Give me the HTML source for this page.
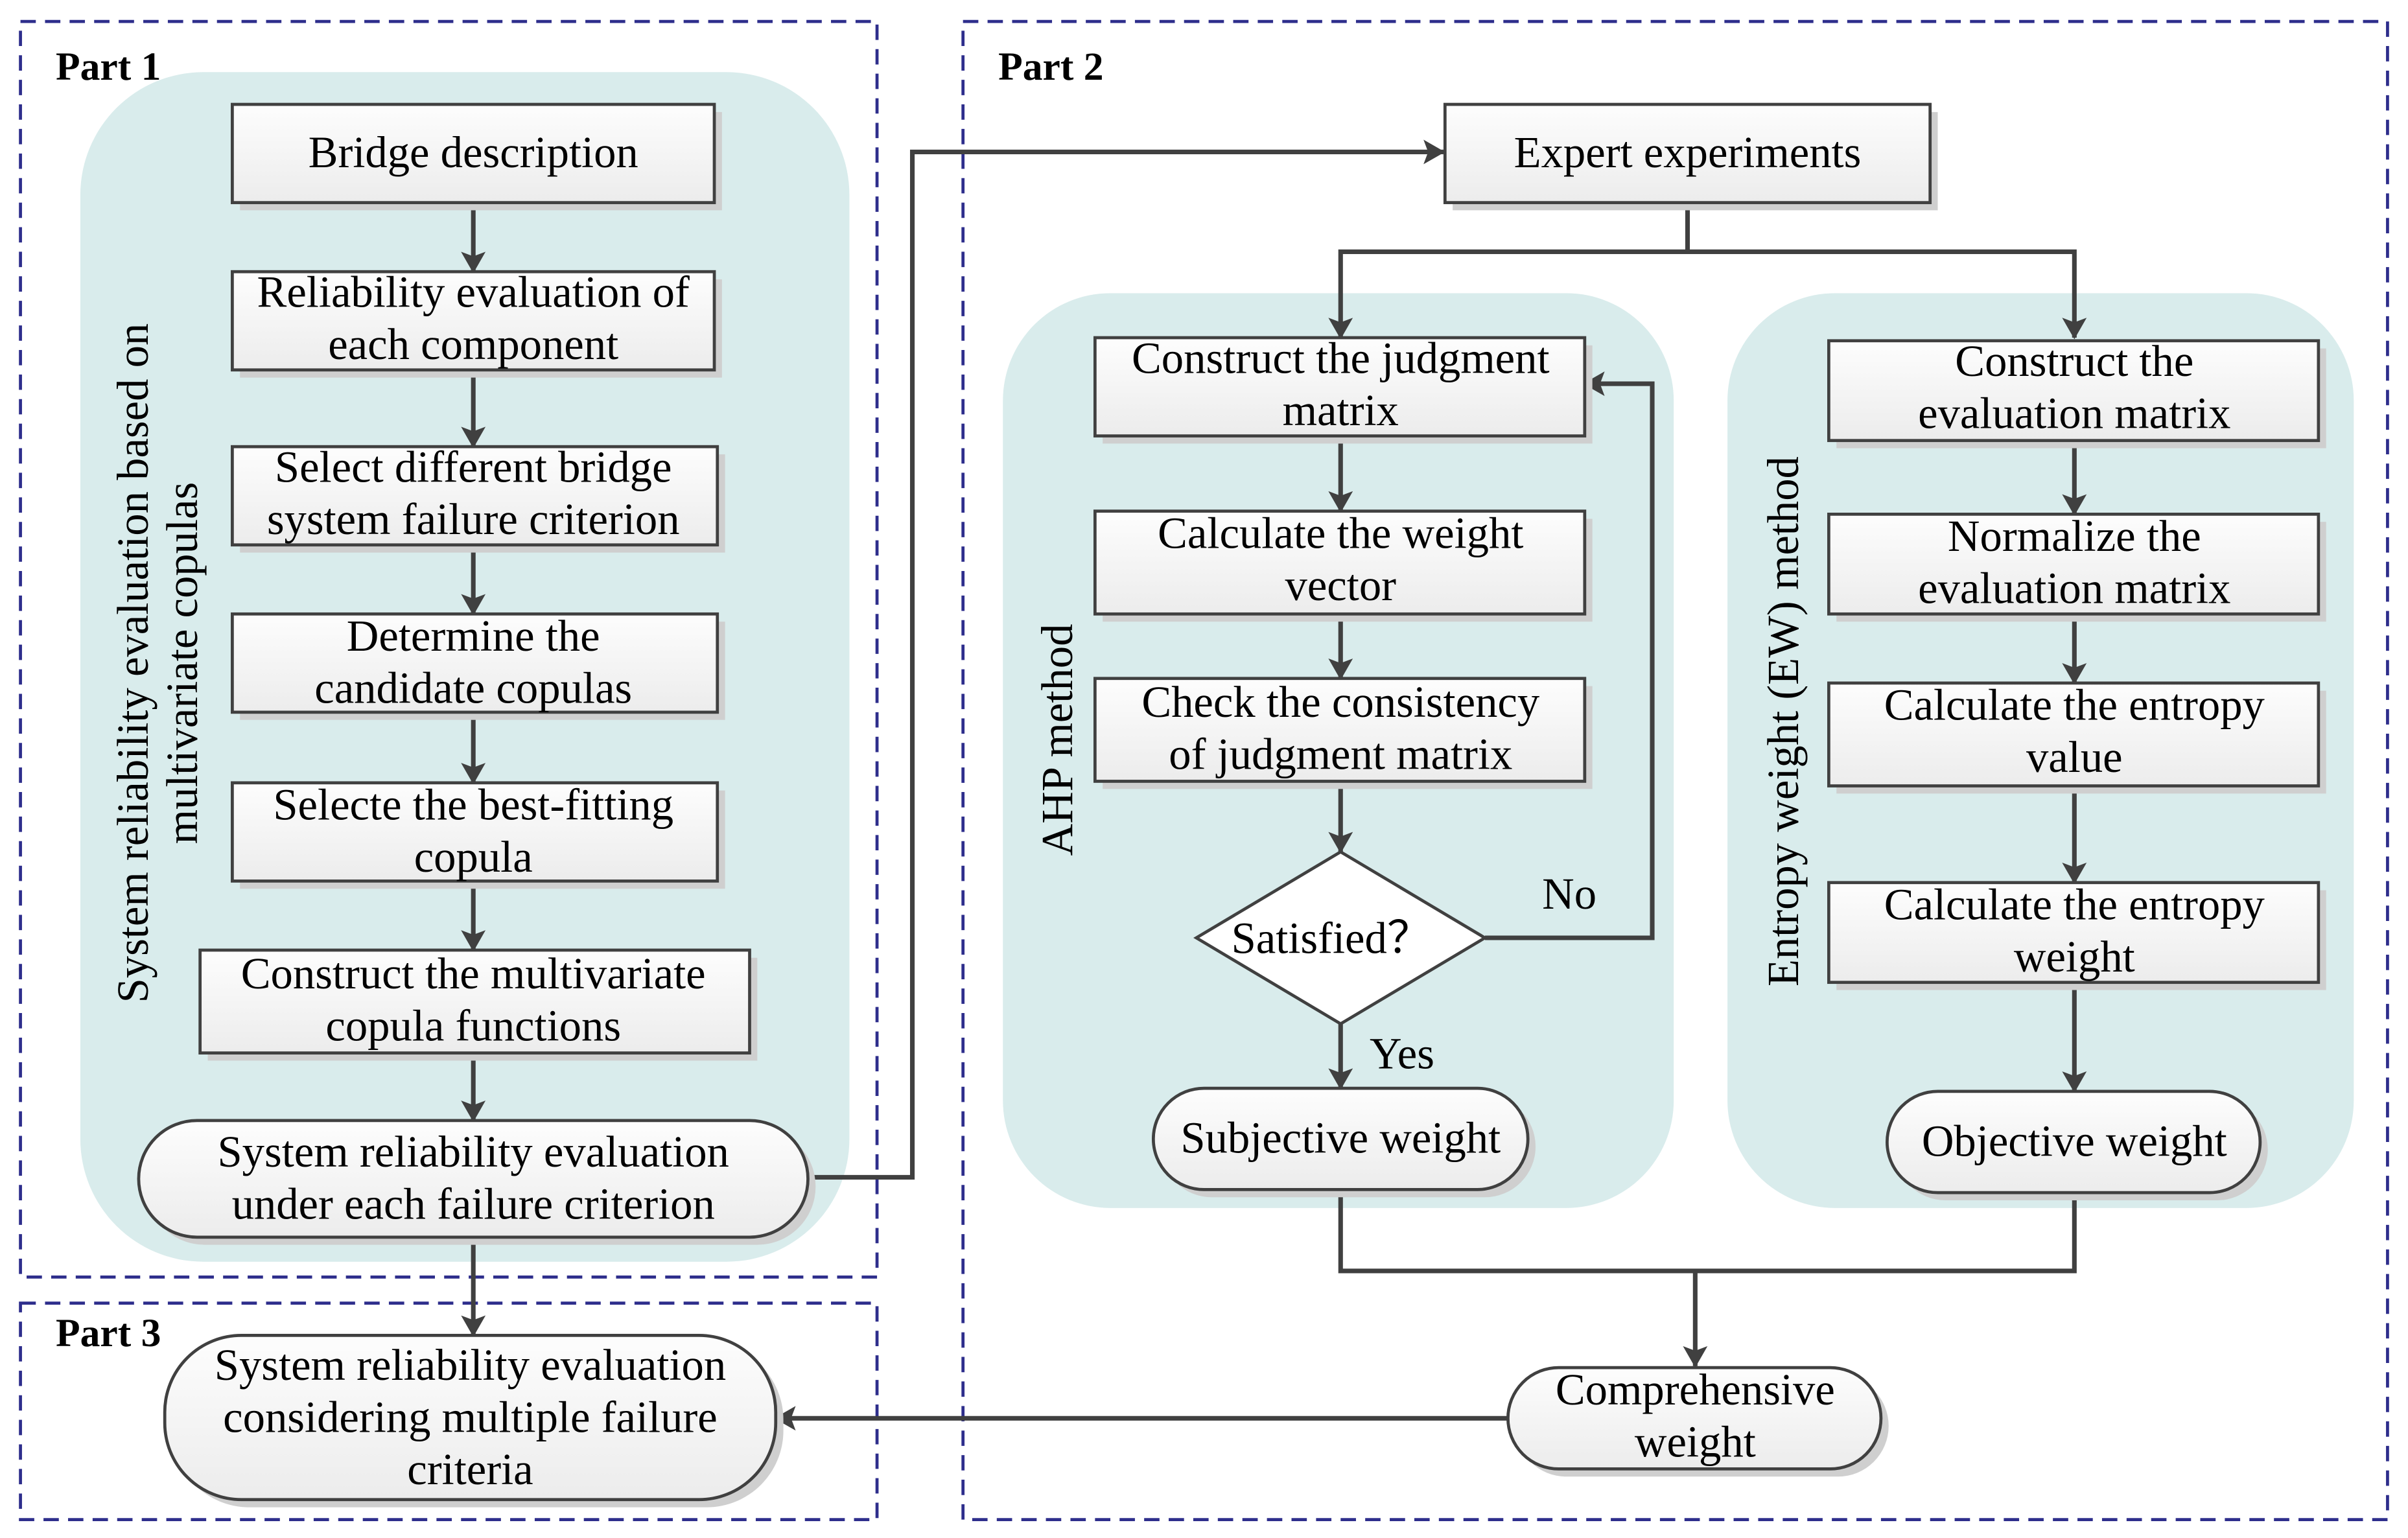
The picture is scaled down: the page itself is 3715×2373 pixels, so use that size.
<!DOCTYPE html>
<html><head><meta charset="utf-8"><style>html,body{margin:0;padding:0;background:#fff}svg{display:block}</style></head><body>
<svg xmlns="http://www.w3.org/2000/svg" width="3715" height="2373" viewBox="0 0 1568 1002" font-family="'Liberation Serif', serif" font-size="29">
<defs>
<linearGradient id="g" x1="0" y1="0" x2="0" y2="1"><stop offset="0" stop-color="#fdfdfd"/><stop offset="1" stop-color="#ececec"/></linearGradient>
<marker id="a" viewBox="0 0 14 16" refX="13" refY="8" markerWidth="14" markerHeight="16" markerUnits="userSpaceOnUse" orient="auto"><path d="M0,0 L14,8 L0,16 L3,8 Z" fill="#404040"/></marker>
</defs>
<rect width="1568" height="1002" fill="#fff"/>
<g fill="none" stroke="#2e2e8c" stroke-width="2" stroke-dasharray="10 6">
<rect x="13" y="14" width="558" height="818"/>
<rect x="13" y="849" width="558" height="141"/>
<rect x="627" y="14" width="928" height="976"/>
</g>
<g font-weight="bold" font-size="26"><text x="36" y="52">Part 1</text><text x="650" y="52">Part 2</text><text x="36" y="877">Part 3</text></g>
<g fill="#d9ecec">
<rect x="52" y="47" width="501" height="775" rx="80"/>
<rect x="653" y="191" width="437" height="596" rx="70"/>
<rect x="1125" y="191" width="408" height="596" rx="70"/>
</g>
<g text-anchor="middle">
<text transform="translate(96,432) rotate(-90)">System reliability evaluation based on</text>
<text transform="translate(128,432) rotate(-90)">multivariate copulas</text>
<text transform="translate(698,482) rotate(-90)">AHP method</text>
<text transform="translate(1171,470) rotate(-90)">Entropy weight (EW) method</text>
</g>
<g stroke="#404040" stroke-width="3" fill="none" marker-end="url(#a)">
<path d="M308,132 V177"/><path d="M308,241 V291"/><path d="M308,355 V400"/><path d="M308,464 V510"/><path d="M308,574 V619"/><path d="M308,686 V730"/><path d="M308,806 V870"/>
<path d="M526,767 H594 V99 H940"/>
<path d="M1099,132 V164 H873 V220"/><path d="M1099,164 H1351 V220"/>
<path d="M873,284 V333"/><path d="M873,400 V442"/><path d="M873,509 V555"/><path d="M873,667 V709"/>
<path d="M967,611 H1076 V250 H1032"/>
<path d="M1351,287 V335"/><path d="M1351,400 V445"/><path d="M1351,512 V575"/><path d="M1351,640 V711"/>
<path d="M873,775 V828 H1351 V777" marker-end="none"/><path d="M1104,828 V890"/>
<path d="M982,924 H505"/>
</g>
<g fill="#cfcfcf">
<rect x="156" y="73" width="314" height="64"/><rect x="156" y="182" width="314" height="64"/><rect x="156" y="296" width="316" height="64"/><rect x="156" y="405" width="316" height="64"/><rect x="156" y="515" width="316" height="64"/><rect x="135" y="624" width="358" height="67"/>
<rect x="946" y="73" width="316" height="64"/>
<rect x="718" y="225" width="319" height="64"/><rect x="718" y="338" width="319" height="67"/><rect x="718" y="447" width="319" height="67"/>
<rect x="1196" y="227" width="319" height="65"/><rect x="1196" y="340" width="319" height="65"/><rect x="1196" y="450" width="319" height="67"/><rect x="1196" y="580" width="319" height="65"/>
<rect x="95" y="735" width="436" height="76" rx="38"/><rect x="112" y="875" width="398" height="107" rx="50"/>
<rect x="756" y="714" width="244" height="66" rx="33"/><rect x="1234" y="716" width="243" height="66" rx="33"/><rect x="987" y="896" width="243" height="66" rx="33"/>
</g>
<g fill="url(#g)" stroke="#404040" stroke-width="2">
<rect x="151" y="68" width="314" height="64"/><rect x="151" y="177" width="314" height="64"/><rect x="151" y="291" width="316" height="64"/><rect x="151" y="400" width="316" height="64"/><rect x="151" y="510" width="316" height="64"/><rect x="130" y="619" width="358" height="67"/>
<rect x="941" y="68" width="316" height="64"/>
<rect x="713" y="220" width="319" height="64"/><rect x="713" y="333" width="319" height="67"/><rect x="713" y="442" width="319" height="67"/>
<rect x="1191" y="222" width="319" height="65"/><rect x="1191" y="335" width="319" height="65"/><rect x="1191" y="445" width="319" height="67"/><rect x="1191" y="575" width="319" height="65"/>
<rect x="90" y="730" width="436" height="76" rx="38"/><rect x="107" y="870" width="398" height="107" rx="50"/>
<rect x="751" y="709" width="244" height="66" rx="33"/><rect x="1229" y="711" width="243" height="66" rx="33"/><rect x="982" y="891" width="243" height="66" rx="33"/>
<path d="M873,555 L967,611 L873,667 L779,611 Z" fill="#fff"/>
</g>
<g text-anchor="middle">
<text x="308" y="109">Bridge description</text>
<text x="308" y="200">Reliability evaluation of</text><text x="308" y="234">each component</text>
<text x="308" y="314">Select different bridge</text><text x="308" y="348">system failure criterion</text>
<text x="308" y="424">Determine the</text><text x="308" y="458">candidate copulas</text>
<text x="308" y="534">Selecte the best-fitting</text><text x="308" y="568">copula</text>
<text x="308" y="644">Construct the multivariate</text><text x="308" y="678">copula functions</text>
<text x="308" y="760">System reliability evaluation</text><text x="308" y="794">under each failure criterion</text>
<text x="306" y="899">System reliability evaluation</text><text x="306" y="933">considering multiple failure</text><text x="306" y="967">criteria</text>
<text x="1099" y="109">Expert experiments</text>
<text x="873" y="243">Construct the judgment</text><text x="873" y="277">matrix</text>
<text x="873" y="357">Calculate the weight</text><text x="873" y="391">vector</text>
<text x="873" y="467">Check the consistency</text><text x="873" y="501">of judgment matrix</text>
<text x="867" y="621">Satisfied？</text>
<text x="873" y="751">Subjective weight</text>
<text x="1351" y="245">Construct the</text><text x="1351" y="279">evaluation matrix</text>
<text x="1351" y="359">Normalize the</text><text x="1351" y="393">evaluation matrix</text>
<text x="1351" y="469">Calculate the entropy</text><text x="1351" y="503">value</text>
<text x="1351" y="599">Calculate the entropy</text><text x="1351" y="633">weight</text>
<text x="1351" y="753">Objective weight</text>
<text x="1104" y="915">Comprehensive</text><text x="1104" y="949">weight</text>
<text x="1022" y="592">No</text><text x="913" y="696">Yes</text>
</g>
</svg>
</body></html>
